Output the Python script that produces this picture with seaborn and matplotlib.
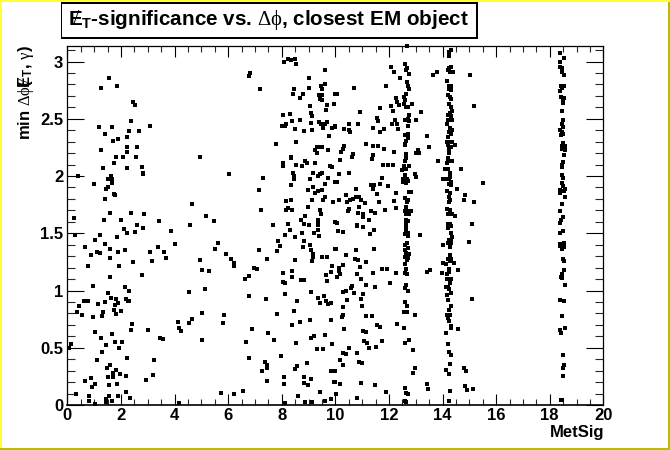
import matplotlib
matplotlib.use("Agg")
import matplotlib.pyplot as plt
import matplotlib.patches as mp
from matplotlib.ticker import MultipleLocator, FormatStrFormatter
import pandas as pd
import seaborn as sns

low_upper = [(.39,2.0),(1.0,1.93),(1.26,2.77),(1.55,2.86),(1.85,2.79),(2.45,2.65),(2.52,2.62),(2.38,2.48),(1.18,2.43),(1.67,2.43),(3.08,2.44),(2.3,2.39),(2.67,2.39),(1.41,2.37),(2.23,2.34),(1.7,2.31),(1.89,2.32),(1.26,2.23),(2.23,2.25),(2.6,2.25),(2.23,2.21),(1.82,2.17),(2.08,2.17),(2.56,2.17),(4.95,2.17),(1.74,2.11),(1.33,2.07),(2.23,2.07),(2.79,2.08),(2.84,2.03),(2.82,2.02),(1.63,2.0),(1.52,1.97),(1.67,1.97),(1.67,1.94),(1.44,1.89),(1.52,1.9),(1.74,1.84),(1.78,1.83),(1.41,1.8),(4.65,1.755),(1.59,1.68),(2.38,1.68),(2.86,1.67),(.25,1.63),(1.37,1.615),(2.0,1.62),(5.17,1.65),(5.47,1.61),(3.42,1.61),(2.6,1.57),(4.58,1.57),(6.03,2.02),(6.82,2.9),(6.78,2.87),(7.19,2.76),(7.79,2.28),(7.3,1.98),(7.15,1.88),(7.23,1.7),(7.67,1.57)]

mid_upper = [(8.08,3.0),(8.23,3.02),(8.35,3.01),(8.5,3.02),(8.53,2.98),(9.61,2.93),(9.02,2.86),(8.46,2.76),(8.42,2.72),(8.79,2.72),(8.68,2.68),(9.02,2.77),(9.47,2.79),(9.61,2.8),(9.5,2.76),(9.39,2.71),(9.5,2.71),(9.43,2.67),(9.5,2.66),(9.05,2.61),(9.69,2.62),(9.95,2.63),(9.65,2.58),(9.09,2.55),(9.13,2.52),(8.05,2.53),(8.31,2.54),(8.38,2.48),(8.68,2.49),(9.09,2.46),(8.01,2.44),(8.12,2.44),(8.16,2.45),(8.5,2.41),(8.83,2.39),(9.13,2.4),(9.39,2.47),(9.47,2.45),(9.55,2.42),(9.61,2.45),(9.69,2.47),(9.88,2.42),(9.99,2.44),(9.76,2.35),(8.53,2.3),(9.24,2.23),(9.32,2.25),(9.43,2.25),(9.5,2.25),(9.32,2.2),(9.73,2.23),(8.35,2.17),(8.35,2.16),(8.05,2.11),(8.05,2.09),(8.53,2.1),(8.76,2.09),(8.87,2.13),(8.94,2.11),(9.24,2.11),(9.8,2.09),(9.88,2.08),(8.42,2.03),(8.46,2.0),(8.46,1.97),(9.17,2.03),(9.5,2.03),(9.43,2.02),(9.35,2.0),(9.05,1.97),(9.73,1.98),(9.99,1.95),(8.35,1.92),(9.17,1.9),(8.98,1.88),(9.61,1.93),(9.5,1.88),(9.35,1.87),(9.24,1.85),(9.13,1.79),(9.61,1.82),(9.54,1.79),(9.91,1.77),(8.16,1.78),(8.35,1.79),(8.98,1.73),(8.16,1.7),(8.23,1.72),(8.38,1.7),(9.43,1.7),(9.47,1.67),(8.87,1.65),(8.72,1.62),(9.35,1.62),(9.35,1.6),(9.99,1.6),(8.23,1.58),(8.83,1.58),(9.02,1.57),(9.35,1.57)]

right_upper = [(10.06,2.72),(9.99,2.72),(10.7,2.77),(11.89,2.79),(12.08,2.95),(12.19,2.91),(12.42,2.86),(12.27,2.68),(12.3,2.65),(12.38,2.62),(12.08,2.61),(12.15,2.57),(11.67,2.59),(10.92,2.56),(12.86,2.63),(13.2,2.56),(13.01,2.49),(12.23,2.49),(12.12,2.45),(12.3,2.45),(12.34,2.41),(11.56,2.51),(11.59,2.48),(11.41,2.42),(11.67,2.38),(11.82,2.41),(10.85,2.45),(10.51,2.45),(10.51,2.4),(10.33,2.41),(10.55,2.38),(9.99,2.43),(13.42,2.35),(11.15,2.28),(11.41,2.26),(11.59,2.26),(11.82,2.24),(12.19,2.21),(10.33,2.26),(10.29,2.24),(10.21,2.21),(10.66,2.19),(10.62,2.17),(10.18,2.14),(11.41,2.18),(11.37,2.15),(13.5,2.25),(13.09,2.23),(13.01,2.2),(13.12,2.2),(13.83,2.13),(11.78,2.1),(11.97,2.1),(12.15,2.1),(14.69,2.06),(10.14,2.02),(10.51,2.03),(11.74,1.98),(12.97,2.02),(13.01,1.99),(10.06,1.95),(11.33,1.92),(11.45,1.92),(11.41,1.89),(11.67,1.93),(11.97,1.91),(10.77,1.89),(15.51,1.94),(14.54,1.89),(10.4,1.83),(11.56,1.84),(12.27,1.85),(12.75,1.86),(12.83,1.86),(10.14,1.79),(10.44,1.77),(10.55,1.79),(10.66,1.8),(10.77,1.82),(10.89,1.82),(10.96,1.79),(11.11,1.76),(11.63,1.77),(12.19,1.78),(10.89,1.73),(12.27,1.72),(11.86,1.7),(11.33,1.69),(11.48,1.68),(10.51,1.71),(10.47,1.69),(10.85,1.68),(11.03,1.67),(11.03,1.64),(11.26,1.62),(10.06,1.59),(10.81,1.57),(13.65,2.88),(13.8,2.91),(15.03,2.88),(15.18,2.61),(14.84,1.83),(14.8,1.79),(15.18,1.77),(15.1,1.58)]

col_127 = [(12.68,3.135),(12.6,2.98),(12.68,2.94),(12.64,2.93),(12.75,2.89),(12.68,2.82),(12.71,2.79),(12.75,2.76),(12.64,2.72),(12.56,2.69),(12.6,2.66),(12.56,2.63),(12.64,2.6),(12.71,2.6),(12.75,2.53),(12.71,2.5),(12.6,2.49),(12.75,2.48),(12.71,2.44),(12.71,2.37),(12.6,2.36),(12.71,2.33),(12.64,2.31),(12.6,2.28),(12.6,2.27),(12.64,2.19),(12.64,2.16),(12.6,2.13),(12.56,2.09),(12.75,2.09),(12.64,2.06),(12.49,2.05),(12.6,2.01),(12.53,1.97),(12.68,1.97),(12.53,1.95),(12.64,1.94),(12.71,1.96),(12.6,1.81),(12.71,1.79),(12.68,1.77),(12.64,1.73),(12.6,1.69),(12.71,1.69),(12.83,1.69),(12.64,1.67),(12.75,1.67),(12.64,1.62),(12.71,1.61),(12.64,1.59),(12.64,1.565),(12.64,1.53),(12.6,1.49),(12.71,1.5),(12.71,1.475),(12.68,1.415),(12.6,1.4),(12.71,1.37),(12.6,1.355),(12.64,1.33),(12.75,1.32),(12.6,1.29),(12.71,1.28),(12.68,1.27),(12.6,1.23),(12.64,1.19),(12.6,1.15),(12.68,1.145),(12.64,1.05),(12.6,1.02),(12.71,1.0),(12.6,.9),(12.68,.865),(12.56,.81),(12.68,.81),(12.97,.785),(12.56,.67),(12.75,.57),(12.6,.54),(12.9,.48),(12.97,.325),(12.9,.28),(12.6,.15),(12.64,.105),(12.71,.095),(12.6,.035),(12.64,.025),(13.42,1.16),(13.54,1.18),(13.42,.185),(13.46,.14)]

col_143 = [(14.32,3.1),(14.24,3.08),(14.24,3.05),(14.32,2.95),(14.2,2.93),(14.28,2.91),(14.39,2.91),(14.24,2.94),(14.17,2.83),(14.24,2.79),(14.32,2.79),(14.24,2.76),(14.32,2.75),(14.2,2.71),(14.28,2.69),(14.32,2.67),(14.24,2.63),(14.32,2.6),(14.36,2.57),(14.28,2.55),(14.2,2.53),(14.32,2.52),(14.2,2.49),(14.36,2.49),(14.17,2.45),(14.28,2.42),(14.36,2.4),(14.24,2.38),(14.32,2.37),(14.2,2.34),(14.17,2.3),(14.28,2.3),(14.2,2.27),(14.32,2.25),(14.47,2.27),(14.24,2.24),(14.36,2.3),(14.24,2.2),(14.2,2.16),(14.28,2.13),(14.17,2.11),(14.36,2.13),(14.2,2.15),(14.09,2.06),(14.2,2.06),(14.28,2.03),(14.28,1.99),(14.02,1.97),(14.13,1.97),(14.24,1.97),(14.32,1.95),(14.24,1.93),(14.32,1.92),(14.17,1.87),(14.28,1.85),(14.24,1.82),(14.24,1.77),(14.28,1.79),(14.17,1.71),(14.28,1.7),(14.2,1.67),(14.36,1.67),(14.47,1.65),(14.2,1.58),(14.28,1.58),(14.2,1.545),(14.32,1.565),(14.32,1.5),(14.36,1.47),(14.24,1.44),(14.32,1.44),(14.2,1.415),(14.32,1.415),(14.28,1.38),(14.02,1.4),(14.99,1.425),(14.28,1.31),(14.2,1.275),(14.32,1.275),(14.02,1.24),(14.13,1.23),(14.28,1.26),(14.43,1.24),(14.24,1.19),(14.24,1.16),(13.98,1.15),(14.17,1.145),(14.58,1.18),(14.17,1.1),(14.32,1.1),(14.28,1.065),(14.2,1.03),(14.13,1.03),(14.24,1.01),(14.32,.98),(14.17,.96),(14.2,.92),(15.1,.925),(14.32,.865),(14.24,.83),(14.17,.785),(14.28,.785),(14.2,.76),(14.24,.73),(14.32,.69),(14.32,.67),(14.13,.63),(14.58,.665),(14.2,.53),(14.24,.46),(14.32,.44),(14.28,.36),(14.13,.31),(14.24,.27),(14.8,.32),(14.88,.295),(14.84,.165),(14.92,.13),(15.14,.14),(14.28,.12),(14.24,.035)]

col_185 = [(18.39,3.07),(18.53,3.03),(18.39,3.0),(18.39,2.95),(18.46,2.94),(18.46,2.91),(18.53,2.88),(18.53,2.79),(18.42,2.79),(18.46,2.77),(18.39,2.74),(18.42,2.69),(18.53,2.68),(18.5,2.66),(18.5,2.64),(18.46,2.57),(18.5,2.49),(18.46,2.45),(18.5,2.43),(18.39,2.4),(18.46,2.38),(18.5,2.37),(18.42,2.36),(18.5,2.29),(18.46,2.26),(18.57,2.26),(18.46,2.24),(18.57,2.23),(18.53,2.18),(18.5,2.12),(18.46,2.1),(18.46,2.08),(18.46,2.01),(18.5,1.98),(18.46,1.94),(18.5,1.91),(18.57,1.89),(18.39,1.88),(18.46,1.87),(18.39,1.85),(18.53,1.87),(18.57,1.82),(18.46,1.755),(18.39,1.69),(18.5,1.64),(18.42,1.62),(18.39,1.59),(18.39,1.5),(18.5,1.52),(18.39,1.406),(18.46,1.406),(18.53,1.415),(18.39,1.39),(18.53,1.38),(18.46,1.36),(18.5,1.275),(18.53,1.26),(18.53,1.18),(18.46,1.145),(18.42,1.12),(18.46,1.11),(18.57,1.05),(18.39,.92),(18.53,.91),(18.46,.775),(18.57,.67),(18.39,.655),(18.42,.63),(18.5,.44),(18.53,.35),(18.5,.32),(18.5,.25),(18.42,.04),(18.46,.045)]

low_lower = [(.29,1.485),(1.03,1.44),(1.22,1.485),(.66,1.38),(1.41,1.41),(1.85,1.47),(2.11,1.54),(2.23,1.5),(2.52,1.51),(2.82,1.545),(1.59,1.36),(1.11,1.34),(1.22,1.33),(1.89,1.34),(2.15,1.35),(.88,1.31),(1.59,1.28),(2.45,1.25),(.77,1.21),(1.93,1.21),(2.79,1.135),(1.59,1.12),(3.08,1.34),(3.38,1.38),(3.61,1.34),(3.68,1.28),(3.16,1.26),(3.87,1.52),(4.02,1.41),(5.62,1.415),(5.51,1.36),(5.92,1.32),(6.11,1.275),(6.22,1.24),(6.22,1.21),(4.95,1.27),(5.02,1.18),(5.29,1.17),(.96,1.04),(5.14,1.01),(2.15,1.03),(2.3,1.0),(1.52,.98),(1.63,.935),(1.82,.925),(2.19,.925),(2.26,.91),(2.3,.91),(.62,.91),(.77,.91),(.44,.865),(1.14,.88),(1.41,.9),(1.89,.89),(1.78,.875),(1.74,.83),(.36,.81),(.55,.785),(.96,.77),(1.33,.81),(1.29,.78),(1.82,.795),(2.0,.82),(4.54,.985),(2.41,.71),(2.38,.655),(4.13,.725),(4.65,.75),(4.54,.715),(5.02,.8),(5.85,.785),(5.81,.715),(4.17,.67),(4.24,.645),(3.01,.655),(1.03,.64),(1.67,.62),(1.26,.585),(1.78,.55),(2.04,.55),(1.44,.525),(1.93,.5),(1.29,.46),(2.23,.41),(1.11,.39),(3.46,.585),(3.57,.575),(5.02,.57),(.14,.535),(.06,.5),(3.23,.39),(1.59,.35),(1.48,.32),(1.82,.31),(1.97,.27),(1.7,.28),(1.7,.245),(1.52,.245),(2.19,.25),(.88,.235),(.66,.21),(1.03,.18),(.92,.16),(1.55,.175),(1.85,.18),(2.94,.22),(3.2,.26),(2.19,.11),(.32,.095),(.81,.08),(1.55,.08),(1.89,.08),(2.34,.06),(.81,.035),(1.03,.01),(1.44,.05),(1.44,.025),(1.67,.035),(4.17,.015),(5.73,.105),(6.22,.095),(6.55,.12)]

mid_lower = [(6.63,1.1),(6.78,1.13),(7.15,1.355),(7.45,1.275),(6.97,1.2),(7.08,1.19),(6.78,.95),(7.41,.925),(7.86,1.43),(7.94,1.39),(7.82,1.345),(8.05,1.15),(8.05,1.07),(8.12,1.065),(8.12,.97),(8.38,1.17),(8.38,1.12),(7.82,.795),(6.89,.665),(7.49,.63),(6.67,.55),(7.71,.57),(6.78,.41),(7.97,.43),(7.38,.375),(7.45,.35),(7.45,.32),(7.26,.3),(7.45,.21),(8.08,.245),(8.08,.185),(8.12,.015),(8.12,1.485),(8.31,1.53),(8.5,1.47),(8.76,1.5),(8.83,1.43),(8.79,1.38),(8.5,1.265),(9.05,1.4),(9.09,1.355),(9.17,1.32),(9.17,1.29),(9.13,1.26),(9.2,1.5),(9.35,1.53),(9.39,1.475),(9.5,1.29),(9.69,1.29),(9.99,1.36),(9.88,1.21),(9.84,1.16),(9.65,1.135),(9.69,1.08),(8.72,1.09),(8.83,1.09),(9.09,.985),(8.57,.91),(8.46,.82),(8.38,.7),(8.68,.725),(9.35,.935),(9.58,.95),(9.43,.89),(9.65,.91),(9.73,.88),(9.84,.89),(9.05,.74),(9.84,.74),(9.09,.585),(9.2,.6),(9.61,.61),(8.53,.54),(9.88,.53),(9.32,.49),(9.54,.49),(8.94,.365),(8.57,.34),(8.5,.315),(9.84,.3),(9.91,.3),(8.83,.245),(8.83,.19),(8.98,.175),(9.09,.225),(9.95,.2),(9.43,.115),(8.61,.08),(8.87,.025),(9.13,.025),(9.61,.035),(9.84,.05)]

right_lower = [(10.1,1.52),(10.29,1.51),(10.81,1.56),(11.03,1.555),(11.3,1.49),(11.45,1.53),(13.16,1.485),(10.03,1.36),(10.77,1.355),(11.45,1.36),(10.4,1.31),(10.74,1.275),(10.85,1.265),(11.15,1.25),(10.29,1.22),(10.92,1.205),(10.14,1.2),(10.14,1.17),(10.18,1.145),(10.06,1.12),(10.81,1.145),(10.96,1.1),(11.41,1.15),(11.74,1.19),(11.93,1.19),(12.27,1.15),(11.15,1.05),(11.48,1.03),(12.04,1.065),(10.62,1.04),(10.59,1.02),(10.4,1.0),(10.29,.985),(10.7,.98),(11.03,.97),(10.96,.925),(10.44,.92),(10.29,.855),(11.0,.865),(10.29,.785),(10.25,.77),(11.15,.775),(11.37,.775),(11.56,.7),(11.67,.68),(12.3,.71),(10.33,.665),(11.03,.645),(11.15,.635),(11.07,.56),(11.18,.54),(11.74,.56),(10.51,.5),(11.26,.5),(11.52,.505),(10.29,.45),(10.4,.445),(10.81,.45),(10.18,.395),(10.29,.35),(10.89,.375),(11.0,.365),(9.99,.295),(10.96,.19),(10.18,.185),(11.48,.175),(9.99,.2),(11.89,.115),(10.03,.095),(10.81,.06)]

x_ticks = [0, 2, 4, 6, 8, 10, 12, 14, 16, 18, 20]
y_ticks = [0, 0.5, 1, 1.5, 2, 2.5, 3]
title_text = r"$\not\!\!\!\mathbf{E}_{\mathbf{T}}$-significance vs. $\Delta\phi$, closest EM object"
x_label = "MetSig"
y_label = r"min $\Delta\phi$($\not\!\!\!\mathbf{E}_{\mathbf{T}}$, $\gamma$)"

sns.set_style("white")
plt.rcParams['font.family'] = ['Liberation Sans', 'DejaVu Sans']
plt.rcParams['text.color'] = 'black'
plt.rcParams['mathtext.fontset'] = 'custom'
plt.rcParams['mathtext.rm'] = 'Liberation Serif'
plt.rcParams['mathtext.bf'] = 'Liberation Sans:bold'
plt.rcParams['mathtext.it'] = 'Liberation Serif'

pts = low_upper + mid_upper + right_upper + col_127 + col_143 + col_185 + low_lower + mid_lower + right_lower
df = pd.DataFrame(pts, columns=["MetSig", "dphi"])

W, H = 670, 450
fig = plt.figure(figsize=(W/100, H/100), dpi=100, facecolor="white")
ax = fig.add_axes([67.3/W, 1-405/H, 536/W, 359.3/H])

sns.scatterplot(data=df, x="MetSig", y="dphi", marker="s", s=8.5, color="black",
                linewidth=0, ax=ax, clip_on=False, zorder=5)
ax.set_xlim(0, 20)
ax.set_ylim(0, 3.138)
ax.set_xticks(x_ticks)
ax.set_yticks(y_ticks)
ax.xaxis.set_minor_locator(MultipleLocator(0.5))
ax.yaxis.set_minor_locator(MultipleLocator(0.1))
ax.xaxis.set_major_formatter(FormatStrFormatter("%g"))
ax.yaxis.set_major_formatter(FormatStrFormatter("%g"))
ax.tick_params(axis="x", which="major", direction="in", length=8, width=0.8, top=True, bottom=True, pad=2,
               labelsize=12, colors="black")
ax.tick_params(axis="x", which="minor", direction="in", length=4, width=0.8, top=True, bottom=True)
ax.tick_params(axis="y", which="major", direction="in", length=12, width=0.8, left=True, right=True, pad=3,
               labelsize=12, colors="black")
ax.tick_params(axis="y", which="minor", direction="in", length=6, width=0.8, left=True, right=True)
for lab in ax.get_xticklabels() + ax.get_yticklabels():
    lab.set_fontweight("bold")
for s, lw in (("left", 0.9), ("right", 0.9), ("top", 0.9), ("bottom", 1.2)):
    ax.spines[s].set_visible(True)
    ax.spines[s].set_linewidth(lw)
    ax.spines[s].set_color("black")
ax.set_xlabel("")
ax.set_ylabel("")

fig.text(604/W, 1-433/H, x_label, ha="right", va="center", fontsize=12, fontweight="bold")
fig.text(25.5/W, 1-45/H, y_label, ha="center", va="top", rotation=90, fontsize=12, fontweight="bold")

# ROOT-style bevelled canvas frame
def rect(x0, y0, x1, y1, color, z=1):
    fig.add_artist(mp.Rectangle((x0/W, 1-y1/H), (x1-x0)/W, (y1-y0)/H, transform=fig.transFigure,
                                facecolor=color, edgecolor="none", zorder=z))
rect(0, 0, W, 2, "#ffff33")
rect(0, 0, 2, H, "#ffff33")
rect(0, 448, W, H, "#bcbc00")
rect(668, 2, W, H, "#bcbc00")

# title box with shadow
rect(61, 2.5, 478, 39, "black", 7)
rect(62, 3.5, 476, 37, "white", 8)
fig.text(69/W, 1-20.5/H, title_text, ha="left", va="center", fontsize=14.9, fontweight="bold", zorder=9)

fig.savefig("out.png", dpi=100, facecolor="white")
